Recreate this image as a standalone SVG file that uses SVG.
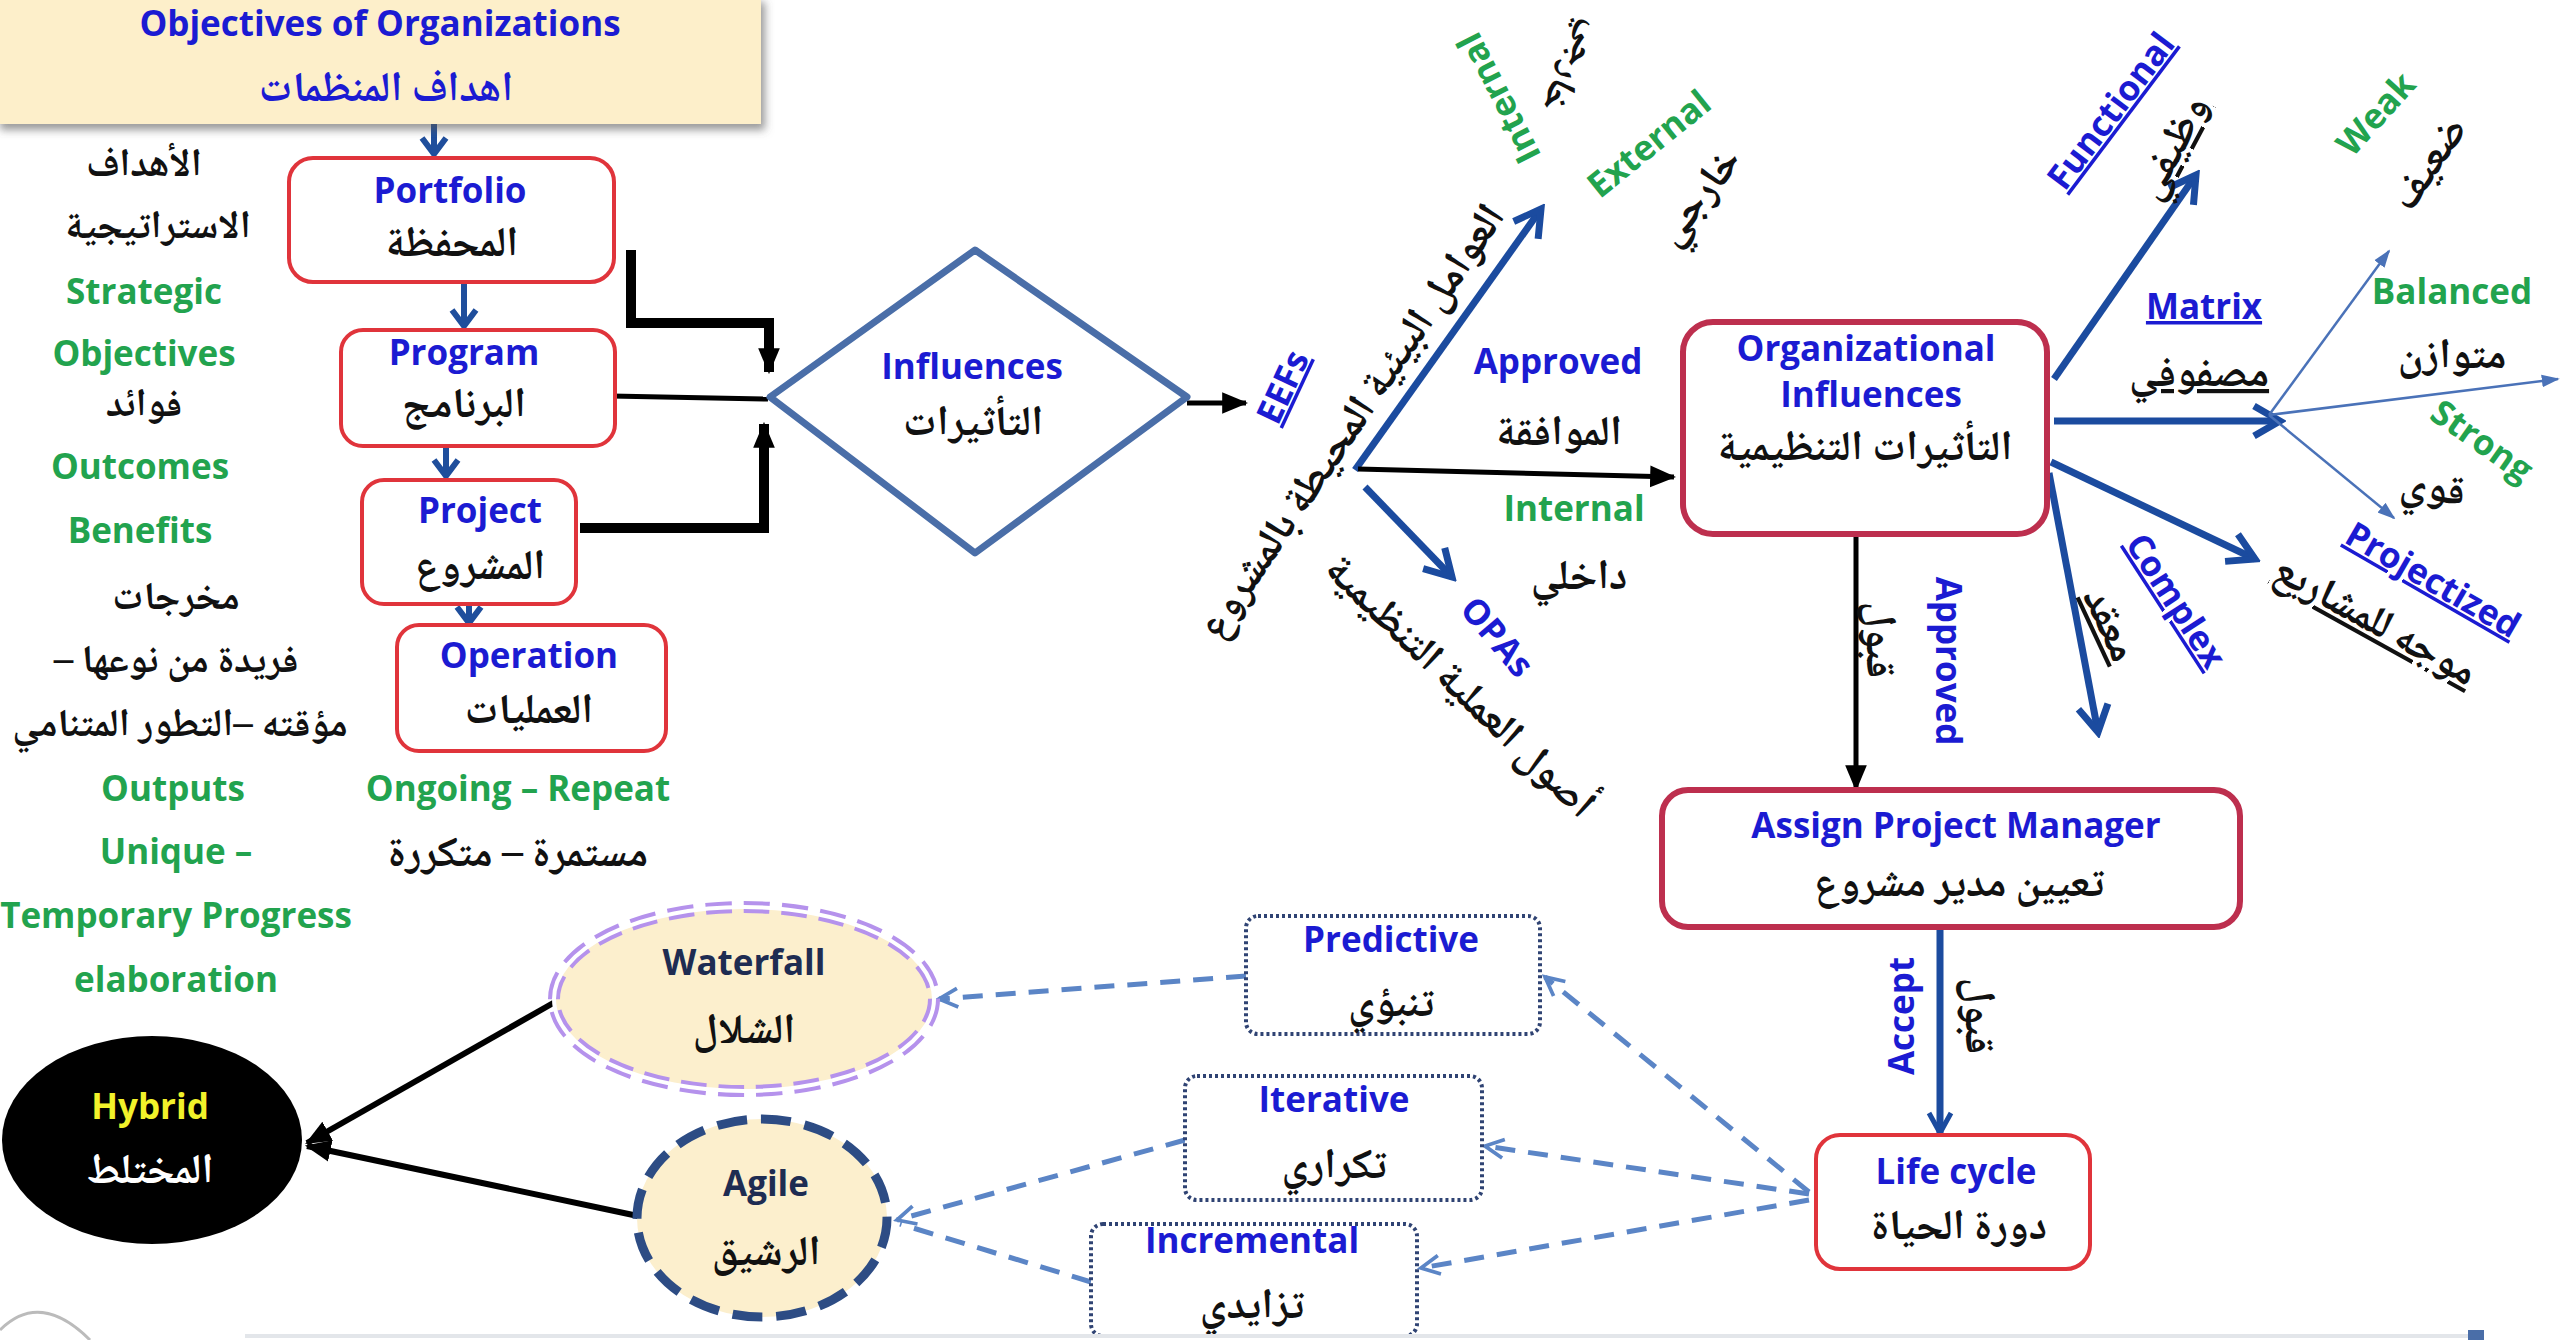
<svg xmlns="http://www.w3.org/2000/svg" width="2560" height="1340" viewBox="0 0 2560 1340">
  <defs>
    <style>
      .en { font-family: 'Open Sans', Lato, 'Liberation Sans', sans-serif; font-weight: 700; font-size: 35px; text-anchor: middle; }
      .ar { font-family: 'Noto Naskh Arabic', 'Noto Sans Arabic', 'DejaVu Sans', sans-serif; font-weight: 700; font-size: 42px; text-anchor: middle; fill: #111; direction: rtl; unicode-bidi: embed; }
      .sm { font-size: 39px; }
      .blue { fill: #1b1bd2; }
      .green { fill: #22a34e; }
      .navy { fill: #1e2c52; }
      .u { text-decoration: underline; }
      .redbox { fill: #fff; stroke: #e0343b; stroke-width: 4; }
      .crimbox { fill: #fff; stroke: #bd2f4e; stroke-width: 6; }
      .dotbox { fill: #fff; stroke: #2f4373; stroke-width: 4; stroke-dasharray: 3 3; }
      .blk { fill: none; stroke: #000; }
      .bl { fill: none; stroke: #1b4b9f; stroke-width: 7; }
      .thin { fill: none; stroke: #4a72b8; stroke-width: 2.5; }
      .dash { fill: none; stroke: #5b85c6; stroke-width: 5; stroke-dasharray: 20 13; }
      .stack { fill: none; stroke: #1f4e9c; stroke-width: 6; }
    </style>
    <filter id="shadow" x="-5%" y="-20%" width="115%" height="150%">
      <feDropShadow dx="4" dy="6" stdDeviation="4" flood-color="#555" flood-opacity="0.6"/>
    </filter>
    <marker id="tri" markerUnits="userSpaceOnUse" viewBox="0 0 24 24" markerWidth="26" markerHeight="26" refX="22" refY="12" orient="auto">
      <path d="M0,2 L24,12 L0,22 Z" fill="#000"/>
    </marker>
    <marker id="chev" markerUnits="userSpaceOnUse" viewBox="0 0 40 40" markerWidth="40" markerHeight="40" refX="34" refY="20" orient="auto">
      <path d="M8,5 L34,20 L8,35" fill="none" stroke="#1b4b9f" stroke-width="7"/>
    </marker>
    <marker id="chevS" markerUnits="userSpaceOnUse" viewBox="0 0 30 30" markerWidth="30" markerHeight="30" refX="26" refY="15" orient="auto">
      <path d="M6,4 L26,15 L6,26" fill="none" stroke="#1b4b9f" stroke-width="5"/>
    </marker>
    <marker id="small" markerUnits="userSpaceOnUse" viewBox="0 0 20 20" markerWidth="18" markerHeight="18" refX="18" refY="10" orient="auto">
      <path d="M0,3 L20,10 L0,17 Z" fill="#4a72b8"/>
    </marker>
    <marker id="dhead" markerUnits="userSpaceOnUse" viewBox="0 0 30 30" markerWidth="28" markerHeight="28" refX="26" refY="15" orient="auto">
      <path d="M6,5 L26,15 L6,25" fill="none" stroke="#5b85c6" stroke-width="4"/>
    </marker>
  </defs>

  <rect x="0" y="0" width="2560" height="1340" fill="#fff"/>

  <!-- connectors -->
  <g id="connectors">
    <!-- stack of blue down arrows -->
    <path class="stack" d="M434,124 V152 M422,138 L434,154 L446,138"/>
    <path class="stack" d="M464,284 V326 M452,310 L464,326 L476,310"/>
    <path class="stack" d="M446,446 V476 M434,460 L446,476 L458,460"/>
    <path class="stack" d="M469,604 V623 M457,607 L469,623 L481,607"/>

    <!-- into Influences -->
    <path class="blk" stroke-width="10" d="M631,250 V323 H769 V372" marker-end="url(#tri)"/>
    <path class="blk" stroke-width="5" d="M611,396 L768,399"/>
    <path class="blk" stroke-width="10" d="M580,528 H764 V424" marker-end="url(#tri)"/>

    <!-- Influences to EEFs -->
    <path class="blk" stroke-width="5" d="M1187,403 L1246,403" marker-end="url(#tri)"/>

    <!-- EEF / OPA fan -->
    <path class="bl" stroke-width="6" d="M1355,470 L1541,209" marker-end="url(#chev)"/>
    <path class="blk" stroke-width="5" d="M1358,469 L1674,477" marker-end="url(#tri)"/>
    <path class="bl" stroke-width="6" d="M1365,487 L1452,577" marker-end="url(#chev)"/>

    <!-- organizational structure arrows -->
    <path class="bl" d="M2054,379 L2196,175" marker-end="url(#chev)"/>
    <path class="bl" d="M2054,421 L2280,421" marker-end="url(#chev)"/>
    <path class="bl" d="M2051,462 L2255,559" marker-end="url(#chev)"/>
    <path class="bl" d="M2049,473 L2098,732" marker-end="url(#chev)"/>
    <path class="thin" d="M2269,415 L2389,251" marker-end="url(#small)"/>
    <path class="thin" d="M2269,415 L2558,379" marker-end="url(#small)"/>
    <path class="thin" d="M2269,415 L2394,518" marker-end="url(#small)"/>

    <!-- Org Influences to Assign PM -->
    <path class="blk" stroke-width="5" d="M1856,535 L1856,789" marker-end="url(#tri)"/>
    <!-- Assign PM to Life cycle -->
    <path class="bl" stroke-width="5" d="M1940,927 L1940,1133" marker-end="url(#chevS)"/>

    <!-- Life cycle to approaches -->
    <path class="dash" d="M1809,1192 L1545,977" marker-end="url(#dhead)"/>
    <path class="dash" d="M1809,1194 L1485,1146" marker-end="url(#dhead)"/>
    <path class="dash" d="M1809,1200 L1421,1268" marker-end="url(#dhead)"/>

    <!-- approaches to models -->
    <path class="dash" d="M1246,976 L939,999" marker-end="url(#dhead)"/>
    <path class="dash" d="M1185,1140 L897,1220" marker-end="url(#dhead)"/>
    <path class="dash" d="M1091,1282 L900,1224"/>

    <!-- models to Hybrid -->
    <path class="blk" stroke-width="6" d="M555,1002 L307,1143" marker-end="url(#tri)"/>
    <path class="blk" stroke-width="6" d="M638,1216 L307,1146" marker-end="url(#tri)"/>
  </g>

  <!-- objectives header -->
  <g id="objectives">
    <rect x="-4" y="-4" width="765" height="128" fill="#fdefca" filter="url(#shadow)"/>
    <text class="en blue" x="380" y="36">Objectives of Organizations</text>
    <text class="ar" x="386" y="101" style="fill:#1b1bd2">اهداف المنظمات</text>
  </g>

  <!-- left column notes -->
  <g id="notes">
    <text class="ar sm" x="144" y="176">الأهداف</text>
    <text class="ar sm" x="158" y="238">الاستراتيجية</text>
    <text class="en green" x="144" y="304">Strategic</text>
    <text class="en green" x="144" y="366">Objectives</text>
    <text class="ar sm" x="144" y="416">فوائد</text>
    <text class="en green" x="140" y="479">Outcomes</text>
    <text class="en green" x="140" y="543">Benefits</text>
    <text class="ar sm" x="176" y="609">مخرجات</text>
    <text class="ar sm" x="176" y="672">فريدة من نوعها –</text>
    <text class="ar sm" x="180" y="736">مؤقته –التطور المتنامي</text>
    <text class="en green" x="173" y="801">Outputs</text>
    <text class="en green" x="176" y="864">Unique –</text>
    <text class="en green" x="176" y="928">Temporary Progress</text>
    <text class="en green" x="176" y="992">elaboration</text>
  </g>

  <g id="portfolio">
    <rect class="redbox" x="289" y="158" width="325" height="124" rx="24"/>
    <text class="en blue" x="450" y="203">Portfolio</text>
    <text class="ar" x="452" y="256">المحفظة</text>
  </g>
  <g id="program">
    <rect class="redbox" x="341" y="330" width="274" height="116" rx="22"/>
    <text class="en blue" x="464" y="365">Program</text>
    <text class="ar" x="464" y="417">البرنامج</text>
  </g>
  <g id="project">
    <rect class="redbox" x="362" y="480" width="214" height="124" rx="22"/>
    <text class="en blue" x="480" y="523">Project</text>
    <text class="ar" x="480" y="579">المشروع</text>
  </g>
  <g id="operation">
    <rect class="redbox" x="397" y="625" width="269" height="126" rx="22"/>
    <text class="en blue" x="529" y="668">Operation</text>
    <text class="ar" x="529" y="723">العمليات</text>
  </g>
  <g id="operation-notes">
    <text class="en green" x="518" y="801">Ongoing – Repeat</text>
    <text class="ar" x="518" y="866">مستمرة – متكررة</text>
  </g>

  <g id="influences">
    <polygon points="770,397 975,250 1187,397 975,553" fill="#fff" stroke="#4a6ea8" stroke-width="7" stroke-linejoin="round"/>
    <text class="en blue" x="972" y="379">Influences</text>
    <text class="ar" x="973" y="435">التأثيرات</text>
  </g>

  <!-- environmental factors labels -->
  <g id="eef-labels">
    <text class="en blue u" transform="translate(1283,387) rotate(-65)" x="0" y="12">EEFs</text>
    <text class="ar" transform="translate(1351,421) rotate(-56)" x="0" y="14">العوامل البيئية المحيطة بالمشروع</text>
    <text class="en green" transform="translate(1499,98) rotate(-117)" x="0" y="12">Internal</text>
    <text class="ar" transform="translate(1574,68) rotate(120)" x="0" y="12" style="font-size:37px">خارجي</text>
    <text class="en green" transform="translate(1649,144) rotate(-39)" x="0" y="12">External</text>
    <text class="ar" transform="translate(1698,196) rotate(-52)" x="0" y="14">خارجي</text>
    <text class="en blue" x="1558" y="374">Approved</text>
    <text class="ar" x="1559" y="445">الموافقة</text>
    <text class="en green" x="1574" y="521">Internal</text>
    <text class="ar" x="1579" y="589">داخلي</text>
    <text class="en blue" transform="translate(1497,637) rotate(50)" x="0" y="12">OPAs</text>
    <text class="ar" transform="translate(1461,686) rotate(44)" x="0" y="14">أصول العملية التنظيمية</text>
  </g>

  <g id="org-influences">
    <rect class="crimbox" x="1683" y="322" width="364" height="212" rx="30"/>
    <text class="en blue" x="1866" y="361">Organizational</text>
    <text class="en blue" x="1871" y="407">Influences</text>
    <text class="ar" x="1865" y="460">التأثيرات التنظيمية</text>
  </g>

  <!-- organizational structure labels -->
  <g id="structure-labels">
    <text class="en blue u" transform="translate(2111,111) rotate(-53)" x="0" y="12">Functional</text>
    <text class="ar u" transform="translate(2171,147) rotate(-62)" x="0" y="14">وظيفي</text>
    <text class="en green" transform="translate(2376,114) rotate(-48)" x="0" y="12">Weak</text>
    <text class="ar" transform="translate(2428,163) rotate(-56)" x="0" y="14">ضعيف</text>
    <text class="en blue u" x="2204" y="319">Matrix</text>
    <text class="ar u" x="2199" y="386">مصفوفي</text>
    <text class="en green" x="2452" y="304">Balanced</text>
    <text class="ar" x="2452" y="368">متوازن</text>
    <text class="en green" transform="translate(2482,441) rotate(35)" x="0" y="12">Strong</text>
    <text class="ar" transform="translate(2433,487) rotate(8)" x="0" y="14">قوي</text>
    <text class="en blue u" transform="translate(2433,580) rotate(30)" x="0" y="12">Projectized</text>
    <text class="ar u" transform="translate(2376,620) rotate(29)" x="0" y="14">موجه للمشاريع</text>
    <text class="en blue u" transform="translate(2176,601) rotate(57)" x="0" y="12">Complex</text>
    <text class="ar u" transform="translate(2111,624) rotate(65)" x="0" y="14">معقد</text>
  </g>

  <g id="approval-labels">
    <text class="ar" transform="translate(1881,640) rotate(90)" x="0" y="14">قبول</text>
    <text class="en blue" transform="translate(1948,661) rotate(90)" x="0" y="12">Approved</text>
    <text class="en blue" transform="translate(1902,1016) rotate(-90)" x="0" y="12">Accept</text>
    <text class="ar" transform="translate(1980,1016) rotate(90)" x="0" y="14">قبول</text>
  </g>

  <g id="assign-pm">
    <rect class="crimbox" x="1662" y="790" width="578" height="137" rx="26"/>
    <text class="en blue" x="1956" y="838">Assign Project Manager</text>
    <text class="ar" x="1959" y="896">تعيين مدير مشروع</text>
  </g>

  <g id="life-cycle">
    <rect class="redbox" x="1816" y="1135" width="274" height="134" rx="24" stroke-width="5"/>
    <text class="en blue" x="1956" y="1184">Life cycle</text>
    <text class="ar" x="1959" y="1239">دورة الحياة</text>
  </g>

  <g id="predictive">
    <rect class="dotbox" x="1246" y="916" width="294" height="118" rx="12"/>
    <text class="en blue" x="1391" y="952">Predictive</text>
    <text class="ar" x="1391" y="1016">تنبؤي</text>
  </g>
  <g id="iterative">
    <rect class="dotbox" x="1185" y="1076" width="297" height="124" rx="12"/>
    <text class="en blue" x="1334" y="1112">Iterative</text>
    <text class="ar" x="1334" y="1178">تكراري</text>
  </g>
  <g id="incremental">
    <rect class="dotbox" x="1091" y="1224" width="326" height="112" rx="12"/>
    <text class="en blue" x="1252" y="1253">Incremental</text>
    <text class="ar" x="1252" y="1318">تزايدي</text>
  </g>

  <g id="waterfall">
    <ellipse cx="744" cy="999" rx="190" ry="92" fill="#fcefcd"/>
    <ellipse cx="744" cy="999" rx="190" ry="92" fill="none" stroke="#b592ec" stroke-width="12" stroke-dasharray="26 12"/>
    <ellipse cx="744" cy="999" rx="190" ry="92" fill="none" stroke="#fff" stroke-width="4"/>
    <text class="en navy" x="744" y="975">Waterfall</text>
    <text class="ar" x="744" y="1043">الشلال</text>
  </g>

  <g id="agile">
    <ellipse cx="762" cy="1218" rx="125" ry="99" fill="#fcefcd" stroke="#2d4c84" stroke-width="9" stroke-dasharray="30 14"/>
    <text class="en navy" x="766" y="1196">Agile</text>
    <text class="ar" x="766" y="1265">الرشيق</text>
  </g>

  <g id="hybrid">
    <ellipse cx="152" cy="1140" rx="150" ry="104" fill="#000"/>
    <text class="en" x="150" y="1119" style="fill:#f2f22a">Hybrid</text>
    <text class="ar" x="150" y="1183" style="fill:#fff">المختلط</text>
  </g>

  <!-- slide footer remnants -->
  <g id="footer">
    <path d="M0,1330 Q40,1290 90,1340" fill="none" stroke="#bbb" stroke-width="3"/>
    <line x1="245" y1="1336" x2="2480" y2="1336" stroke="#e3e6ea" stroke-width="4"/>
    <rect x="2468" y="1330" width="16" height="10" fill="#4a6ea8"/>
  </g>
</svg>
